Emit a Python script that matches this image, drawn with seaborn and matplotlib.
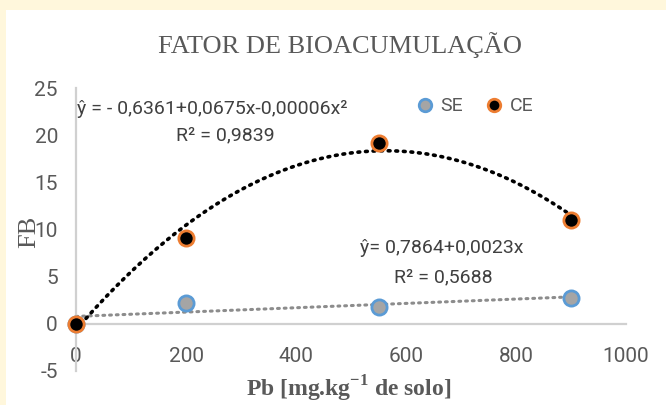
import numpy as np
import pandas as pd
import matplotlib
matplotlib.use("Agg")
import matplotlib.pyplot as plt
import seaborn as sns
from matplotlib.lines import Line2D
from matplotlib.patches import Rectangle

# data
pb_dose = [0, 200, 550, 900]
fb_se = [0.0, 2.2, 1.8, 2.7]
fb_ce = [0.0, 9.1, 19.2, 11.0]

# trendline coefficients printed on the chart (c0, c1, c2)
coef_se = [0.7864, 0.0023]
coef_ce = [-0.6361, 0.0675, -0.00006]

title = "FATOR DE BIOACUMULAÇÃO"
eq_ce = "ŷ = - 0,6361+0,0675x-0,00006x²"
r2_ce = "R² = 0,9839"
eq_se = "ŷ= 0,7864+0,0023x"
r2_se = "R² = 0,5688"
x_ticks = [0, 200, 400, 600, 800, 1000]
y_ticks = [-5, 0, 5, 10, 15, 20, 25]

sns.set_theme(style="white")
plt.rcParams['font.family'] = ['Roboto', 'DejaVu Sans']
plt.rcParams['axes.unicode_minus'] = False
plt.rcParams['mathtext.fontset'] = 'custom'
plt.rcParams['mathtext.bf'] = 'Liberation Serif:bold'
plt.rcParams['mathtext.rm'] = 'Liberation Serif'

df = pd.DataFrame({'dose': pb_dose * 2,
                   'FB': fb_se + fb_ce,
                   'grupo': ['SE'] * 4 + ['CE'] * 4})

fig = plt.figure(figsize=(6.66, 4.05), dpi=100, facecolor='#fff7dc')
fig.patches.append(Rectangle((6 / 666, 0), 1, 1 - 10 / 405, transform=fig.transFigure,
                             facecolor='white', edgecolor='none', zorder=-1))
ax = fig.add_axes([76 / 666, 1 - 371 / 405, 550 / 666, 283 / 405])
ax.patch.set_alpha(0)

# trend lines
xg = np.linspace(0, 900, 200)
y_se = coef_se[0] + coef_se[1] * xg
y_ce = coef_ce[0] + coef_ce[1] * xg + coef_ce[2] * xg ** 2
ax.plot(xg, y_se, color='#8c8c8c', lw=2.2, ls=(0, (0.6, 1.6)), dash_capstyle='round', zorder=2)
ax.plot(xg, y_ce, color='black', lw=2.6, ls=(0, (0.5, 1.6)), dash_capstyle='round', zorder=2)

# points
sns.scatterplot(data=df[df.grupo == 'SE'], x='dose', y='FB', ax=ax, s=120,
                color='#a5a5a5', edgecolor='#5b9bd5', linewidth=2, zorder=3, clip_on=False, legend=False)
sns.scatterplot(data=df[df.grupo == 'CE'], x='dose', y='FB', ax=ax, s=120,
                color='black', edgecolor='#ed7d31', linewidth=2, zorder=4, clip_on=False, legend=False)

ax.set_xlim(0, 1000)
ax.set_ylim(-5, 25)
ax.set_xticks(x_ticks)
ax.set_yticks(y_ticks)
ax.spines['top'].set_visible(False)
ax.spines['right'].set_visible(False)
ax.spines['bottom'].set_position(('data', 0))
for s in ['left', 'bottom']:
    ax.spines[s].set_color('#d0d0d0')
    ax.spines[s].set_linewidth(1.6)
ax.tick_params(axis='both', length=0, labelsize=15, labelcolor='#595959')
ax.tick_params(axis='x', pad=17)
ax.tick_params(axis='y', pad=13)

ax.set_xlabel('')
ax.set_ylabel('')
serif = ['Liberation Serif', 'DejaVu Serif']
fig.text(0.51, 1 - 45 / 405, title, ha='center', va='center', fontsize=19,
         family=serif, color='#595959')
fig.text(29 / 666, 1 - 232 / 405, 'FB', ha='center', va='center', rotation=90, fontsize=19,
         family=serif, color='#595959')
fig.text(349 / 666, 1 - 389 / 405, r'Pb [mg.kg$^{\mathbf{-1}}$ de solo]', ha='center', va='center',
         fontsize=17, family=serif, fontweight='bold', color='#595959')

ax.text(1, 22.8, eq_ce, fontsize=14, color='#404040', va='center', ha='left')
ax.text(271, 20.0, r2_ce, fontsize=14, color='#404040', va='center', ha='center')
ax.text(664, 8.0, eq_se, fontsize=14, color='#404040', va='center', ha='center')
ax.text(667, 4.9, r2_se, fontsize=14, color='#404040', va='center', ha='center')

handles = [Line2D([], [], ls='', marker='o', ms=9, mfc='#a5a5a5', mec='#5b9bd5', mew=2, label='SE'),
           Line2D([], [], ls='', marker='o', ms=9, mfc='black', mec='#ed7d31', mew=2, label='CE')]
leg = ax.legend(handles=handles, loc='center', bbox_to_anchor=(0.715, 0.935), ncol=2, frameon=False,
                fontsize=14, handletextpad=-0.2, columnspacing=0.6, labelcolor='#595959')

fig.savefig('out.png', dpi=100, facecolor=fig.get_facecolor())
